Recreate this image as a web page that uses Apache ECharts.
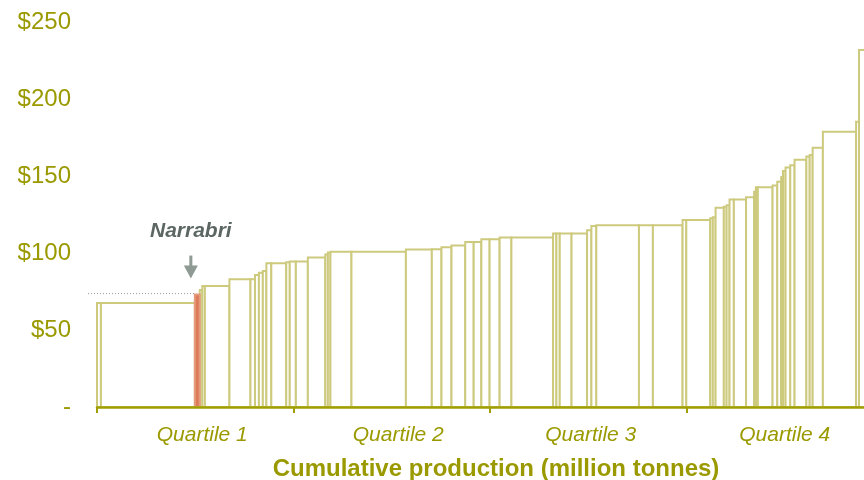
<!DOCTYPE html>
<html>
<head>
<meta charset="utf-8">
<script src="https://cdn.jsdelivr.net/npm/echarts@6/dist/echarts.min.js"></script>
<style>
  html, body { margin: 0; padding: 0; background: #ffffff; }
  #chart { width: 864px; height: 480px; }
</style>
</head>
<body>
<div id="chart"></div>
<script>
// Cash cost curve: each mine is a block whose width is its output and
// whose height is its cost per tonne, stacked left to right by cost.
const mineNames = [
  'Mine 1', 'Mine 2', 'Narrabri', 'Mine 4', 'Mine 5', 'Mine 6', 'Mine 7', 'Mine 8',
  'Mine 9', 'Mine 10', 'Mine 11', 'Mine 12', 'Mine 13', 'Mine 14', 'Mine 15', 'Mine 16',
  'Mine 17', 'Mine 18', 'Mine 19', 'Mine 20', 'Mine 21', 'Mine 22', 'Mine 23', 'Mine 24',
  'Mine 25', 'Mine 26', 'Mine 27', 'Mine 28', 'Mine 29', 'Mine 30', 'Mine 31', 'Mine 32',
  'Mine 33', 'Mine 34', 'Mine 35', 'Mine 36', 'Mine 37', 'Mine 38', 'Mine 39', 'Mine 40',
  'Mine 41', 'Mine 42', 'Mine 43', 'Mine 44', 'Mine 45', 'Mine 46', 'Mine 47', 'Mine 48',
  'Mine 49', 'Mine 50', 'Mine 51', 'Mine 52', 'Mine 53', 'Mine 54', 'Mine 55', 'Mine 56',
  'Mine 57', 'Mine 58', 'Mine 59', 'Mine 60', 'Mine 61', 'Mine 62', 'Mine 63', 'Mine 64',
  'Mine 65', 'Mine 66'
];

// Output of each mine (million tonnes)
const production = [
  2.0, 47.8, 2.5, 1.3, 1.3, 12.5, 10.7, 2.3,
  2.0, 2.0, 1.8, 2.5, 7.6, 1.8, 3.1, 6.1,
  8.9, 1.3, 1.3, 10.7, 27.7, 13.2, 4.9, 5.1,
  7.0, 4.3, 3.9, 4.2, 5.1, 6.0, 21.2, 1.7,
  1.7, 6.0, 7.9, 2.2, 2.5, 21.7, 7.1, 15.1,
  1.9, 12.2, 1.3, 1.4, 4.2, 1.4, 1.5, 2.2,
  6.2, 4.1, 0.9, 1.0, 7.5, 2.4, 2.0, 0.9,
  1.3, 2.4, 2.2, 6.0, 1.7, 1.5, 5.2, 16.9,
  1.5, 5.3
];

// Cash cost of each mine (US$ per tonne)
const cost = [
  67.5, 67.5, 73, 76, 78.5, 78.5, 83, 83,
  85.7, 87.2, 88.3, 93.3, 93.3, 94, 94.5, 94.5,
  97, 99, 100.3, 100.8, 100.8, 102.2, 102.4, 103.7,
  104.9, 107.2, 107.2, 108.9, 108.9, 110.1, 110.1, 112.6,
  112.6, 112.6, 112.6, 114.7, 117.5, 118, 118, 118,
  121.4, 121.4, 122.5, 123.2, 129.4, 130, 131, 134.8,
  134.8, 136.2, 139.8, 142.7, 142.7, 143.9, 146.3, 149.3,
  153.3, 155.6, 157, 160.6, 162.6, 163.6, 168.4, 178.8,
  185.3, 231.8
];

const quartileLabels = ['Quartile 1', 'Quartile 2', 'Quartile 3', 'Quartile 4'];
const costTicks = [0, 50, 100, 150, 200, 250];
const totalAxis = 400;          // cumulative output axis span (million tonnes)
const highlightMine = 'Narrabri';

// Build [start, end, cost] blocks from the cumulative output
const blocks = [];
let running = 0;
for (let i = 0; i < production.length; i++) {
  blocks.push([running, running + production[i], cost[i], mineNames[i]]);
  running += production[i];
}
const highlightIndex = mineNames.indexOf(highlightMine);

const olive = '#9a9a00';
const blockLine = '#cdca7e';
const font = 'Liberation Sans, Arial, sans-serif';

// Small per-label nudges for the quartile captions (left padding, px)
const quartileNudge = [14, 13, 5, 0];
const quartileRich = {};
quartileNudge.forEach((p, i) => {
  quartileRich['q' + i] = {
    padding: [0, 0, 0, p],
    fontFamily: font,
    fontSize: 21,
    fontStyle: 'italic',
    color: olive
  };
});

const chart = echarts.init(document.getElementById('chart'), null, { renderer: 'canvas' });

chart.setOption({
  animation: false,
  backgroundColor: '#ffffff',
  title: {
    text: 'Cumulative production (million tonnes)',
    left: 491,
    textAlign: 'center',
    top: 452,
    textStyle: {
      fontFamily: font,
      fontSize: 24,
      fontWeight: 'bold',
      color: olive
    }
  },
  // The last quartile runs past the right edge of the canvas
  grid: {
    left: 97, top: 22, width: 786, height: 385,
    containLabel: false,
    outerBoundsMode: 'none'
  },
  xAxis: [
    {
      type: 'value',
      min: 0,
      max: totalAxis,
      interval: totalAxis / 4,
      position: 'bottom',
      axisLine: { show: true, lineStyle: { color: '#a09e00', width: 2.5 } },
      axisTick: { show: true, length: 6, lineStyle: { color: '#a09e00', width: 2 } },
      axisLabel: { show: false },
      splitLine: { show: false },
      z: 10
    },
    {
      type: 'category',
      data: quartileLabels,
      position: 'bottom',
      boundaryGap: true,
      axisLine: { show: false },
      axisTick: { show: false },
      splitLine: { show: false },
      axisLabel: {
        margin: 18,
        fontFamily: font,
        fontSize: 21,
        fontStyle: 'italic',
        color: olive,
        formatter: (v, i) => '{q' + i + '|' + v + '}',
        rich: quartileRich
      }
    }
  ],
  yAxis: {
    type: 'value',
    min: costTicks[0],
    max: costTicks[costTicks.length - 1],
    interval: 50,
    axisLine: { show: false },
    axisTick: { show: false },
    splitLine: { show: false },
    axisLabel: {
      margin: 26,
      fontFamily: font,
      fontSize: 24,
      color: olive,
      formatter: v => (v === 0 ? '-' : '$' + v)
    }
  },
  series: [
    {
      type: 'custom',
      xAxisIndex: 0,
      yAxisIndex: 0,
      data: blocks,
      encode: { x: [0, 1], y: 2 },
      renderItem: function (params, api) {
        const x0 = api.value(0);
        const x1 = api.value(1);
        const c = api.value(2);
        const topLeft = api.coord([x0, c]);
        const bottomRight = api.coord([x1, 0]);
        const isHighlight = params.dataIndex === highlightIndex;
        const rect = {
          type: 'rect',
          shape: {
            x: topLeft[0],
            y: topLeft[1],
            width: bottomRight[0] - topLeft[0],
            height: bottomRight[1] - topLeft[1]
          },
          style: {
            fill: isHighlight ? '#dc7b5a' : '#ffffff',
            stroke: isHighlight ? '#e59a7a' : blockLine,
            lineWidth: 2
          },
          z2: isHighlight ? 5 : 1
        };
        if (!isHighlight) {
          return rect;
        }
        // Highlighted mine: dotted guide back to the axis, arrow and name
        const originX = api.coord([0, 0])[0];
        const ax = topLeft[0] - 4;
        const ay = topLeft[1];
        return {
          type: 'group',
          children: [
            {
              type: 'line',
              shape: { x1: originX - 9, y1: ay - 1, x2: topLeft[0], y2: ay - 1 },
              style: { stroke: '#9a9a9a', lineWidth: 1, lineDash: [1, 2] }
            },
            rect,
            {
              type: 'rect',
              shape: { x: ax - 1.5, y: ay - 39, width: 3, height: 12 },
              style: { fill: '#8e9a93' }
            },
            {
              type: 'polygon',
              shape: { points: [[ax - 7, ay - 29], [ax + 7, ay - 29], [ax, ay - 16]] },
              style: { fill: '#8e9a93' }
            },
            {
              type: 'text',
              x: ax,
              y: ay - 63,
              style: {
                text: mineNames[params.dataIndex],
                fontFamily: font,
                fontSize: 21,
                fontWeight: 'bold',
                fontStyle: 'italic',
                fill: '#5c6763',
                align: 'center',
                verticalAlign: 'middle'
              }
            }
          ]
        };
      }
    }
  ]
});
</script>
</body>
</html>
